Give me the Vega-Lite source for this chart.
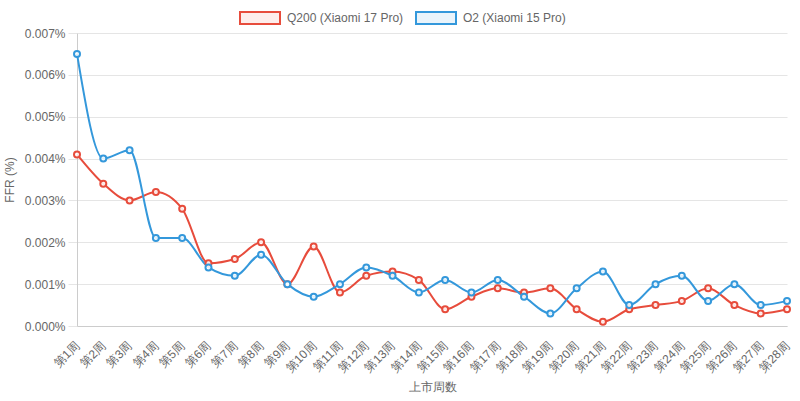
{
  "$schema": "https://vega.github.io/schema/vega-lite/v6.json",
  "autosize": "none",
  "width": 710,
  "height": 293,
  "padding": {"left": 77, "top": 33, "right": 13, "bottom": 75},
  "background": "white",
  "config": {
    "font": "Liberation Sans",
    "view": {"stroke": null},
    "axis": {"labelColor": "#666", "titleColor": "#666", "labelFontSize": 12, "titleFontSize": 12, "titleFontWeight": "normal", "domainColor": "#ccc", "gridColor": "#e5e5e5", "tickColor": "#e5e5e5"}
  },
  "data": {"values": [
    {"week": "第1周", "series": "Q200 (Xiaomi 17 Pro)", "ffr": 0.0041},
    {"week": "第2周", "series": "Q200 (Xiaomi 17 Pro)", "ffr": 0.0034},
    {"week": "第3周", "series": "Q200 (Xiaomi 17 Pro)", "ffr": 0.0030},
    {"week": "第4周", "series": "Q200 (Xiaomi 17 Pro)", "ffr": 0.0032},
    {"week": "第5周", "series": "Q200 (Xiaomi 17 Pro)", "ffr": 0.0028},
    {"week": "第6周", "series": "Q200 (Xiaomi 17 Pro)", "ffr": 0.0015},
    {"week": "第7周", "series": "Q200 (Xiaomi 17 Pro)", "ffr": 0.0016},
    {"week": "第8周", "series": "Q200 (Xiaomi 17 Pro)", "ffr": 0.0020},
    {"week": "第9周", "series": "Q200 (Xiaomi 17 Pro)", "ffr": 0.0010},
    {"week": "第10周", "series": "Q200 (Xiaomi 17 Pro)", "ffr": 0.0019},
    {"week": "第11周", "series": "Q200 (Xiaomi 17 Pro)", "ffr": 0.0008},
    {"week": "第12周", "series": "Q200 (Xiaomi 17 Pro)", "ffr": 0.0012},
    {"week": "第13周", "series": "Q200 (Xiaomi 17 Pro)", "ffr": 0.0013},
    {"week": "第14周", "series": "Q200 (Xiaomi 17 Pro)", "ffr": 0.0011},
    {"week": "第15周", "series": "Q200 (Xiaomi 17 Pro)", "ffr": 0.0004},
    {"week": "第16周", "series": "Q200 (Xiaomi 17 Pro)", "ffr": 0.0007},
    {"week": "第17周", "series": "Q200 (Xiaomi 17 Pro)", "ffr": 0.0009},
    {"week": "第18周", "series": "Q200 (Xiaomi 17 Pro)", "ffr": 0.0008},
    {"week": "第19周", "series": "Q200 (Xiaomi 17 Pro)", "ffr": 0.0009},
    {"week": "第20周", "series": "Q200 (Xiaomi 17 Pro)", "ffr": 0.0004},
    {"week": "第21周", "series": "Q200 (Xiaomi 17 Pro)", "ffr": 0.0001},
    {"week": "第22周", "series": "Q200 (Xiaomi 17 Pro)", "ffr": 0.0004},
    {"week": "第23周", "series": "Q200 (Xiaomi 17 Pro)", "ffr": 0.0005},
    {"week": "第24周", "series": "Q200 (Xiaomi 17 Pro)", "ffr": 0.0006},
    {"week": "第25周", "series": "Q200 (Xiaomi 17 Pro)", "ffr": 0.0009},
    {"week": "第26周", "series": "Q200 (Xiaomi 17 Pro)", "ffr": 0.0005},
    {"week": "第27周", "series": "Q200 (Xiaomi 17 Pro)", "ffr": 0.0003},
    {"week": "第28周", "series": "Q200 (Xiaomi 17 Pro)", "ffr": 0.0004},
    {"week": "第1周", "series": "O2 (Xiaomi 15 Pro)", "ffr": 0.0065},
    {"week": "第2周", "series": "O2 (Xiaomi 15 Pro)", "ffr": 0.0040},
    {"week": "第3周", "series": "O2 (Xiaomi 15 Pro)", "ffr": 0.0042},
    {"week": "第4周", "series": "O2 (Xiaomi 15 Pro)", "ffr": 0.0021},
    {"week": "第5周", "series": "O2 (Xiaomi 15 Pro)", "ffr": 0.0021},
    {"week": "第6周", "series": "O2 (Xiaomi 15 Pro)", "ffr": 0.0014},
    {"week": "第7周", "series": "O2 (Xiaomi 15 Pro)", "ffr": 0.0012},
    {"week": "第8周", "series": "O2 (Xiaomi 15 Pro)", "ffr": 0.0017},
    {"week": "第9周", "series": "O2 (Xiaomi 15 Pro)", "ffr": 0.0010},
    {"week": "第10周", "series": "O2 (Xiaomi 15 Pro)", "ffr": 0.0007},
    {"week": "第11周", "series": "O2 (Xiaomi 15 Pro)", "ffr": 0.0010},
    {"week": "第12周", "series": "O2 (Xiaomi 15 Pro)", "ffr": 0.0014},
    {"week": "第13周", "series": "O2 (Xiaomi 15 Pro)", "ffr": 0.0012},
    {"week": "第14周", "series": "O2 (Xiaomi 15 Pro)", "ffr": 0.0008},
    {"week": "第15周", "series": "O2 (Xiaomi 15 Pro)", "ffr": 0.0011},
    {"week": "第16周", "series": "O2 (Xiaomi 15 Pro)", "ffr": 0.0008},
    {"week": "第17周", "series": "O2 (Xiaomi 15 Pro)", "ffr": 0.0011},
    {"week": "第18周", "series": "O2 (Xiaomi 15 Pro)", "ffr": 0.0007},
    {"week": "第19周", "series": "O2 (Xiaomi 15 Pro)", "ffr": 0.0003},
    {"week": "第20周", "series": "O2 (Xiaomi 15 Pro)", "ffr": 0.0009},
    {"week": "第21周", "series": "O2 (Xiaomi 15 Pro)", "ffr": 0.0013},
    {"week": "第22周", "series": "O2 (Xiaomi 15 Pro)", "ffr": 0.0005},
    {"week": "第23周", "series": "O2 (Xiaomi 15 Pro)", "ffr": 0.0010},
    {"week": "第24周", "series": "O2 (Xiaomi 15 Pro)", "ffr": 0.0012},
    {"week": "第25周", "series": "O2 (Xiaomi 15 Pro)", "ffr": 0.0006},
    {"week": "第26周", "series": "O2 (Xiaomi 15 Pro)", "ffr": 0.0010},
    {"week": "第27周", "series": "O2 (Xiaomi 15 Pro)", "ffr": 0.0005},
    {"week": "第28周", "series": "O2 (Xiaomi 15 Pro)", "ffr": 0.0006}
  ]},
  "encoding": {
    "x": {"field": "week", "type": "ordinal", "sort": null,
      "scale": {"type": "point", "padding": 0},
      "axis": {"title": "上市周数", "labelAngle": -45, "labelAlign": "right", "labelBaseline": "middle", "labelPadding": 17, "ticks": false, "grid": false, "titlePadding": 8, "domainColor": "#ccc"}},
    "y": {"field": "ffr", "type": "quantitative",
      "scale": {"domain": [0, 0.007], "nice": false},
      "axis": {"title": "FFR (%)", "values": [0, 0.001, 0.002, 0.003, 0.004, 0.005, 0.006, 0.007], "labelExpr": "format(datum.value, '.3f') + '%'", "tickSize": 9, "labelPadding": 3, "titlePadding": 8}},
    "color": {"field": "series", "type": "nominal",
      "scale": {"domain": ["Q200 (Xiaomi 17 Pro)", "O2 (Xiaomi 15 Pro)"], "range": ["#e74c3c", "#3498db"]},
      "legend": {"title": null, "orient": "none", "legendX": 162, "legendY": -36, "direction": "horizontal",
        "symbolType": "M-1,-0.3H1V0.3H-1Z", "symbolSize": 1600, "symbolStrokeWidth": 2,
        "labelFontSize": 12, "labelColor": "#666", "labelOffset": 6, "columnPadding": 8, "labelLimit": 300,
        "encode": {"symbols": {"update": {"fill": {"scale": "color", "field": "value"}, "fillOpacity": {"value": 0.1}, "stroke": {"scale": "color", "field": "value"}, "strokeWidth": {"value": 2}}}}}}
  },
  "layer": [
    {"mark": {"type": "line", "interpolate": "monotone", "strokeWidth": 2}},
    {"mark": {"type": "point", "filled": false, "size": 36, "strokeWidth": 2, "fill": "#ffffff", "fillOpacity": 0.85, "strokeOpacity": 1}}
  ]
}
